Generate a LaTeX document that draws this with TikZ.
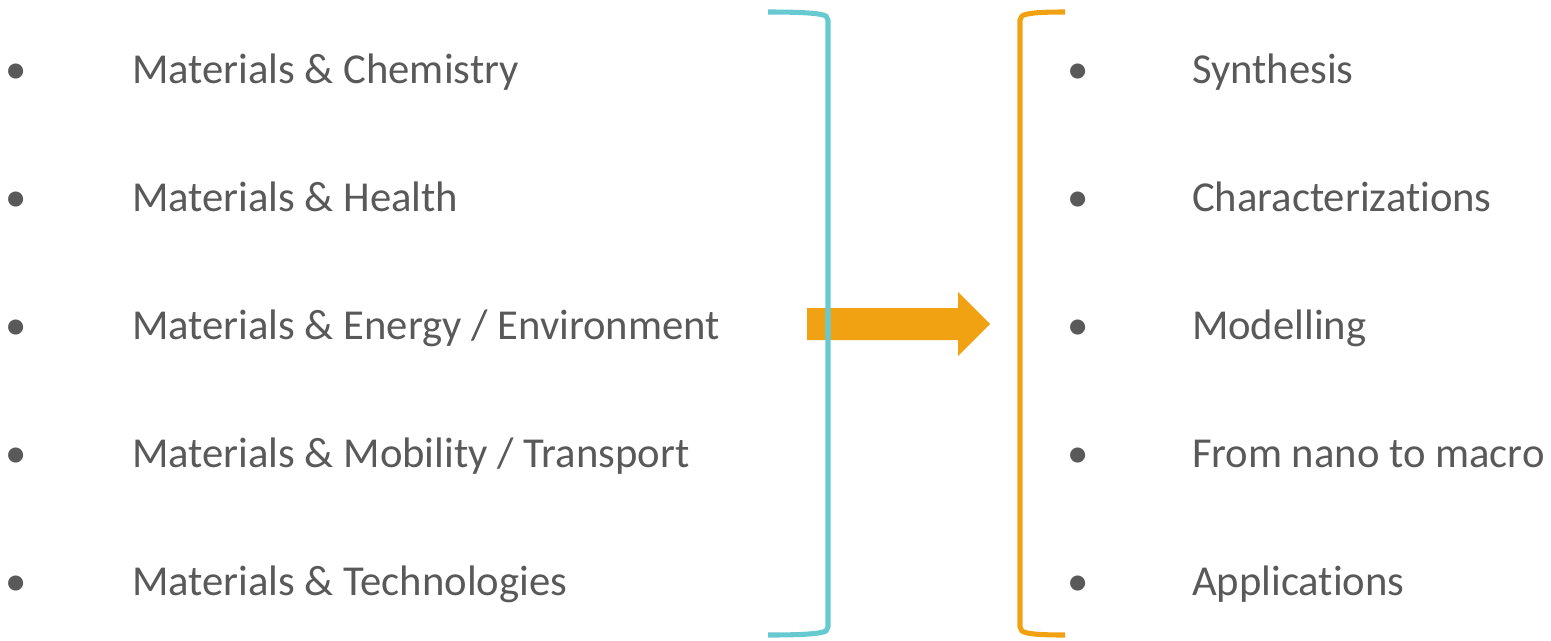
\documentclass[tikz,border=0pt]{standalone}
\usepackage{fontspec}
\setmainfont{Carlito}[Ligatures={NoCommon}]
\definecolor{txtgrey}{HTML}{595959}
\definecolor{tealc}{HTML}{68CAD1}
\definecolor{orangec}{HTML}{F1A212}
\begin{document}
\begin{tikzpicture}[x=0.75pt,y=-0.75pt,
  item/.style={anchor=base west,inner sep=0pt,outer sep=0pt,text=txtgrey,font=\fontsize{32}{38}\selectfont},
  bul/.style={anchor=base,inner sep=0pt,outer sep=0pt,text=txtgrey,font=\fontsize{32}{38}\selectfont},
  brk/.style={line width=3.8pt,line join=round}]
\useasboundingbox (0,0) rectangle (1551,640);
% left list
\node[bul] (lb1) at (16,83) {•};
\node[item] (l1) at (132,83) {Materials \& Chemistry};
\node[bul] (lb2) at (16,211) {•};
\node[item] (l2) at (132,211) {Materials \& Health};
\node[bul] (lb3) at (16,339) {•};
\node[item] (l3) at (132,339) {Materials \& Energy / Environment};
\node[bul] (lb4) at (16,467) {•};
\node[item] (l4) at (132,467) {Materials \& Mobility / Transport};
\node[bul] (lb5) at (16,595) {•};
\node[item] (l5) at (132,595) {Materials \& Technologies};
% right list
\node[bul] (rb1) at (1078,83) {•};
\node[item] (r1) at (1192,83) {Synthesis};
\node[bul] (rb2) at (1078,211) {•};
\node[item] (r2) at (1192,211) {Characterizations};
\node[bul] (rb3) at (1078,339) {•};
\node[item] (r3) at (1192,339) {Modelling};
\node[bul] (rb4) at (1078,467) {•};
\node[item] (r4) at (1192,467) {From nano to macro};
\node[bul] (rb5) at (1078,595) {•};
\node[item] (r5) at (1192,595) {Applications};
% arrow
\fill[orangec] (807,308) -- (958,308) -- (958,292) -- (990,324) -- (958,356) -- (958,340) -- (807,340) -- cycle;
% teal bracket
\draw[brk,tealc] (768,12) .. controls (800,12) and (820,13) .. (826,16) -- (828,20) -- (828,627) -- (826,631) .. controls (820,634) and (800,635) .. (768,635);
% orange bracket
\draw[brk,orangec] (1065,12) .. controls (1040,12) and (1026,13) .. (1022,16) -- (1020,20) -- (1020,627) -- (1022,631) .. controls (1026,634) and (1040,635) .. (1065,635);
\end{tikzpicture}
\end{document}
